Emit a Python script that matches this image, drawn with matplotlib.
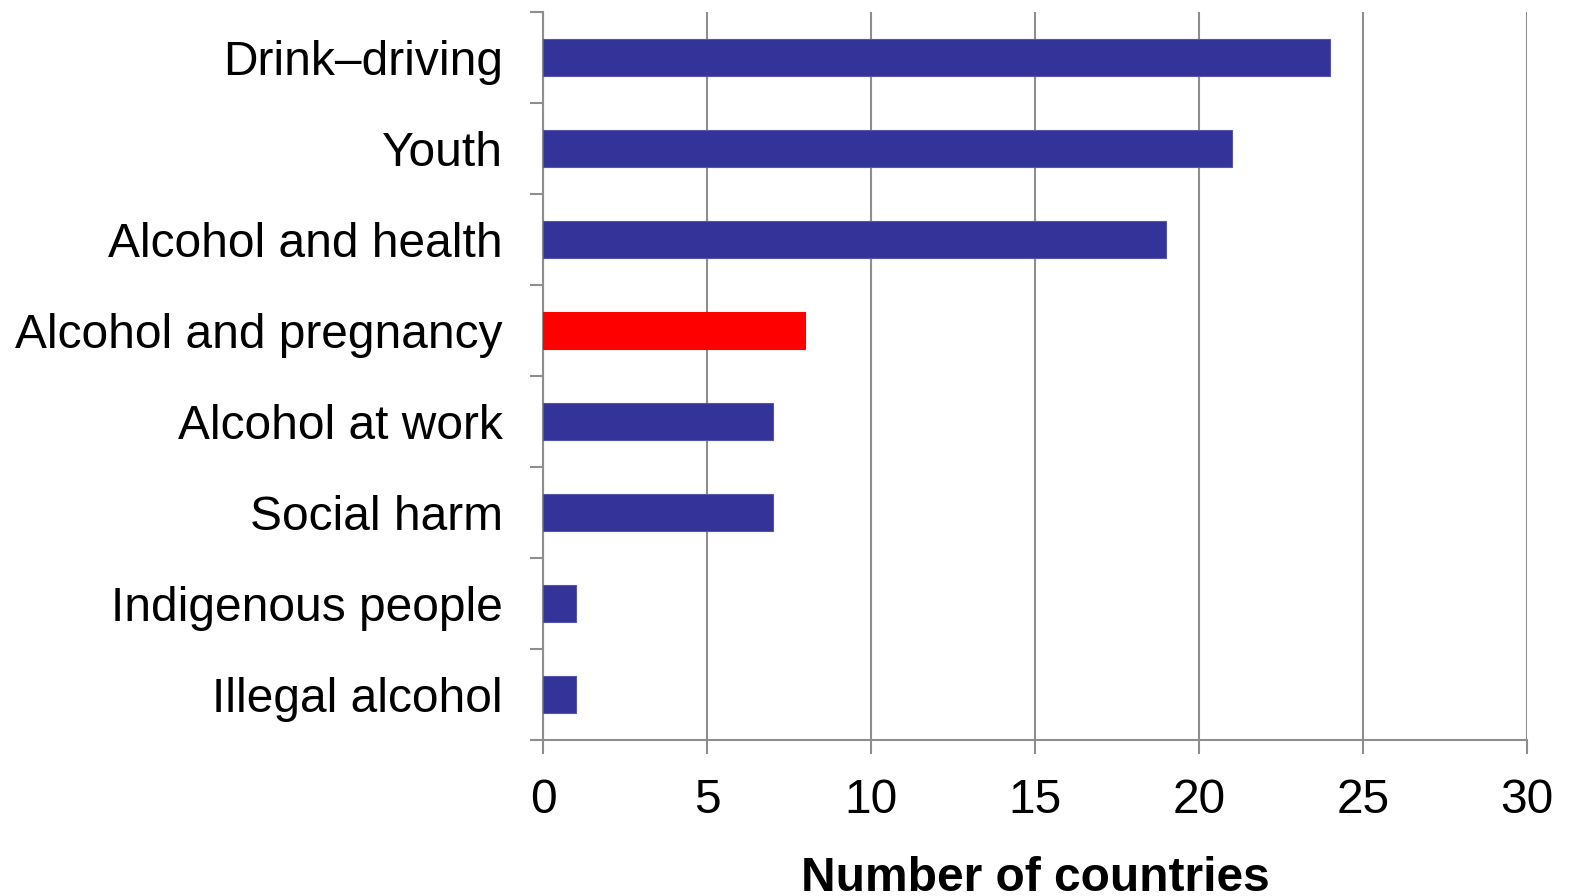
import matplotlib
matplotlib.use("Agg")
import matplotlib.pyplot as plt
import numpy as np

categories = ["Drink–driving", "Youth", "Alcohol and health", "Alcohol and pregnancy",
              "Alcohol at work", "Social harm", "Indigenous people", "Illegal alcohol"]
values = [24, 21, 19, 8, 7, 7, 1, 1]
highlight = "Alcohol and pregnancy"
xticks = [0, 5, 10, 15, 20, 25, 30]

plt.rcParams["font.family"] = ["Liberation Sans", "DejaVu Sans"]

W, H = 1569, 896
fig = plt.figure(figsize=(W / 100, H / 100), dpi=100)
ax = fig.add_axes([543 / W, (H - 740) / H, (1527 - 543) / W, (740 - 12) / H])

grid_col = "#8e8e8e"
colors = ["#ff0000" if c == highlight else "#333399" for c in categories]
edges = ["#ff0000" if c == highlight else "#5555aa" for c in categories]
y = np.arange(len(categories))
ax.barh(y, values, height=0.4, color=colors, edgecolor=edges, linewidth=0.8, zorder=3)

ax.set_ylim(len(categories) - 0.5, -0.5)
ax.set_xlim(0, 30)
ax.set_xticks(xticks)
ax.set_xticklabels([str(t) for t in xticks])
ax.set_yticks(y)
ax.set_yticklabels(categories, va="center_baseline")
ax.set_yticks(np.arange(len(categories) + 1) - 0.5, minor=True)

ax.xaxis.grid(True, color=grid_col, linewidth=1.5, zorder=0)
ax.set_axisbelow(True)

for s in ["top", "right"]:
    ax.spines[s].set_visible(False)
for s in ["left", "bottom"]:
    ax.spines[s].set_color(grid_col)
    ax.spines[s].set_linewidth(1.5)

ax.tick_params(axis="y", which="major", length=0, pad=29, labelsize=34.5)
ax.tick_params(axis="y", which="minor", length=9.5, width=1.5, color=grid_col)
ax.tick_params(axis="x", which="major", length=10, width=1.5, color=grid_col, pad=17, labelsize=34.5)

fig.text((543 + 1527) / 2 / W, (H - 891) / H, "Number of countries",
         ha="center", va="baseline", fontsize=34.5, fontweight="bold")

fig.savefig("out.png", dpi=100)
